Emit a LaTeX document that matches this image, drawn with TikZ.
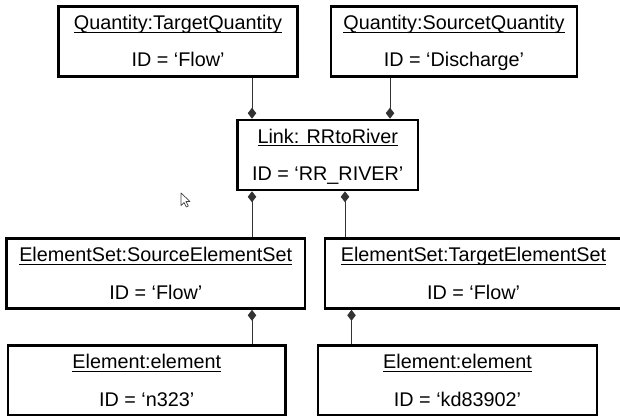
\documentclass[tikz,border=0pt]{standalone}
\usepackage{fontspec}
\setmainfont{Liberation Sans}
\usetikzlibrary{arrows.meta,calc}
\newcommand\objbox[7]{%
  \node[obj, minimum width={#4-#2}, minimum height={#5-#3}] (#1) at ({(#2+#4)/2},{(#3+#5)/2}) {};
  \node[lbl] (#1t) at ({(#2+#4)/2},{#3+23}) {#6};
  \draw[uline] ($(#1t.base west)+(0,2.8)$) -- ($(#1t.base east)+(0,2.8)$);
  \node[lbl] (#1i) at ({(#2+#4)/2},{#3+60.5}) {#7};
}
\begin{document}
\begin{tikzpicture}[x=1pt,y=-1pt,
  obj/.style={draw=black, line width=2.6pt, inner sep=0pt},
  lbl/.style={anchor=base, inner sep=0pt, outer sep=0pt, font=\fontsize{19.8}{22}\selectfont},
  uline/.style={line width=1.2pt},
  conn/.style={line width=1pt, draw=black!80},
  dia/.style={Diamond[length=11pt,width=8.5pt]}]
\useasboundingbox (0,0) rectangle (620,417);
\objbox{tq}{58.5}{6.5}{297.5}{76.5}{Quantity:TargetQuantity}{ID = ‘Flow’}
\objbox{sq}{331}{6.5}{577}{76.5}{Quantity:SourcetQuantity}{ID = ‘Discharge’}
\objbox{link}{237.5}{120}{418}{190}{Link: RRtoRiver}{ID = ‘RR\_RIVER’}
\objbox{ess}{6.5}{238.5}{305}{308.5}{ElementSet:SourceElementSet}{ID = ‘Flow’}
\objbox{est}{325}{238.5}{622}{308.5}{ElementSet:TargetElementSet}{ID = ‘Flow’}
\objbox{ela}{8}{345.5}{285.5}{415}{Element:element}{ID = ‘n323’}
\objbox{elb}{318}{345.5}{597}{415}{Element:element}{ID = ‘kd83902’}
\coordinate (ca) at (252,0);
\coordinate (cb) at (390,0);
\coordinate (cc) at (345,0);
\coordinate (cd) at (351.5,0);
\draw[conn,-{Diamond[length=11pt,width=8.5pt]}] (tq.south -| ca) -- (link.north -| ca);
\draw[conn,-{Diamond[length=11pt,width=8.5pt]}] (sq.south -| cb) -- (link.north -| cb);
\draw[conn,{Diamond[length=11pt,width=8.5pt]}-] (link.south -| ca) -- (ess.north -| ca);
\draw[conn,{Diamond[length=11pt,width=8.5pt]}-] (link.south -| cc) -- (est.north -| cc);
\draw[conn,{Diamond[length=11pt,width=8.5pt]}-] (ess.south -| ca) -- (ela.north -| ca);
\draw[conn,{Diamond[length=11pt,width=8.5pt]}-] (est.south -| cd) -- (elb.north -| cd);
% mouse pointer
\draw[line width=0.7pt, draw=black!75, fill=white, line join=round]
  (181,193) -- (181,205.5) -- (184,202.5) -- (186.3,207) -- (188.3,206) -- (186,201.5) -- (190,201.5) -- cycle;
\end{tikzpicture}
\end{document}
